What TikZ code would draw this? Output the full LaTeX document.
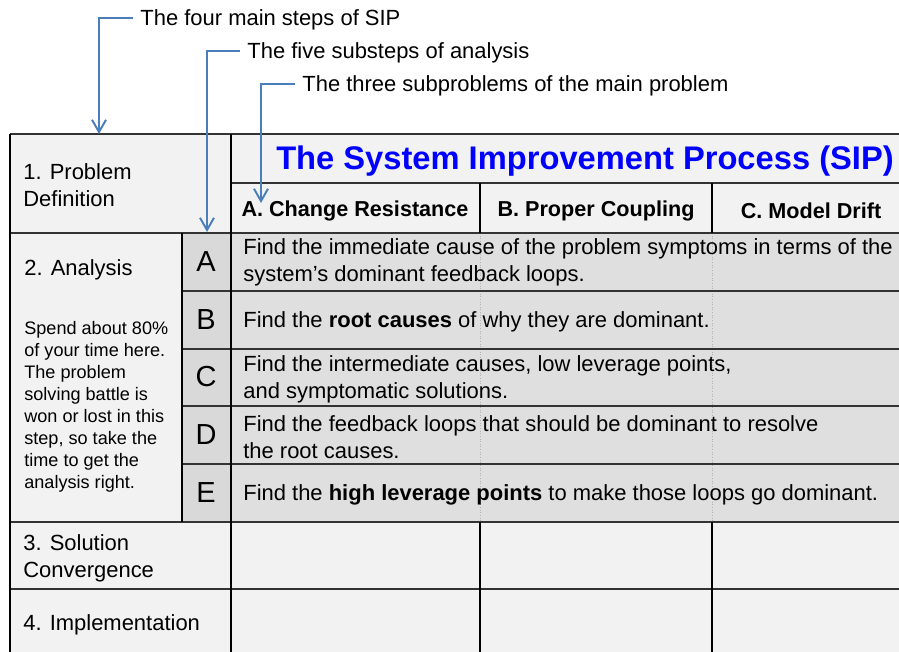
\documentclass[tikz,border=0pt]{standalone}
\usepackage{fontspec}
\setmainfont{Liberation Sans}
\usetikzlibrary{arrows.meta}

\definecolor{cellgray}{HTML}{F2F2F2}
\definecolor{stepgray}{HTML}{DFDFDF}
\definecolor{lettergray}{HTML}{D9D9D9}
\definecolor{calloutblue}{HTML}{4A7EBB}
\definecolor{titleblue}{HTML}{0000FF}

\tikzset{
  rule/.style={line width=1.2pt, black},
  hrule/.style={line width=1.1pt, black!80},
  softrule/.style={line width=0.5pt, black!30, densely dotted},
  callout/.style={calloutblue, line width=1.1pt, -{Straight Barb[length=7pt,width=8pt]}},
  note/.style={font=\fontsize{12.5}{15}\selectfont, inner sep=4pt, anchor=west, text depth=0pt},
  body/.style={font=\fontsize{12.5}{15.3}\selectfont, inner sep=0pt, anchor=west, align=left, yshift=-1.2pt},
  small/.style={font=\fontsize{10.3}{12.5}\selectfont, inner sep=0pt, anchor=west, align=left, yshift=-1.1pt},
  head/.style={font=\fontsize{12.3}{15}\selectfont\bfseries, inner sep=0pt, yshift=-1.6pt},
  letter/.style={font=\fontsize{16.5}{18}\selectfont, inner sep=0pt},
}

\begin{document}
\begin{tikzpicture}[x=0.02cm,y=-0.02cm]
  \useasboundingbox (0,0) rectangle (899,652);

  % table body, runs off the right and bottom edge
  \begin{scope}
    \clip (0,0) rectangle (899,652);
    \fill[cellgray] (10,134) rectangle (910,233);
    \fill[cellgray] (10,233) rectangle (182,522);
    \fill[lettergray] (182,233) rectangle (231,522);
    \fill[stepgray] (231,233) rectangle (910,522);
    \fill[cellgray] (10,522) rectangle (910,660);

    \draw[softrule] (480,233) -- (480,522);
    \draw[softrule] (712,233) -- (712,522);

    \draw[hrule] (231,183) -- (910,183);
    \foreach \y in {291,349,406,464}
      \draw[hrule] (182,\y) -- (910,\y);
    \foreach \y in {134,233,522,589}
      \draw[hrule] (10,\y) -- (910,\y);

    \draw[rule] (10,134) -- (10,660);
    \draw[rule] (182,233) -- (182,522);
    \draw[rule] (231,134) -- (231,660);
    \foreach \x in {480,712} {
      \draw[rule] (\x,183) -- (\x,233);
      \draw[rule] (\x,522) -- (\x,660);
    }
  \end{scope}

  % main steps
  \node[body] (probdef) at (23,183) {1. Problem\\Definition};
  \node[body] (analysis) at (24,268) {2. Analysis};
  \node[small] (advice) at (24,405) {Spend about 80\%\\of your time here.\\The problem\\solving battle is\\won or lost in this\\step, so take the\\time to get the\\analysis right.};
  \node[body] (converge) at (23,556) {3. Solution\\Convergence};
  \node[body] (implement) at (23,623) {4. Implementation};

  % title and subproblems
  \node[font=\fontsize{18.6}{20}\selectfont\bfseries, text=titleblue, inner sep=0pt, yshift=-1.6pt] (title) at (585,158) {The System Improvement Process (SIP)};
  \node[head] (resist) at (355,208) {A. Change Resistance};
  \node[head] (coupling) at (596,208) {B. Proper Coupling};
  \node[head] (drift) at (811,208) {C. Model Drift};

  % substeps of analysis
  \foreach \l/\y in {A/262,B/320,C/377,D/435,E/493}
    \node[letter] (sub\l) at (206,\y) {\l};
  \node[body] (stepA) at (243,260) {Find the immediate cause of the problem symptoms in terms of the\\system’s dominant feedback loops.};
  \node[body] (stepB) at (243,320) {Find the \textbf{root causes} of why they are dominant.};
  \node[body] (stepC) at (243,377) {Find the intermediate causes, low leverage points,\\and symptomatic solutions.};
  \node[body] (stepD) at (243,435) {Find the feedback loops that should be dominant to resolve\\the root causes.};
  \node[body] (stepE) at (243,493) {Find the \textbf{high leverage points} to make those loops go dominant.};

  % callouts
  \node[note] (stepsnote) at (133,18) {The four main steps of SIP};
  \node[note] (subnote) at (240,51) {The five substeps of analysis};
  \node[note] (probnote) at (295,84) {The three subproblems of the main problem};
  \coordinate (stepstip) at (99,134);
  \coordinate (subtip) at (207,232);
  \coordinate (probtip) at (261,203);
  \draw[callout] (stepsnote.west) -| (stepstip);
  \draw[callout] (subnote.west) -| (subtip);
  \draw[callout] (probnote.west) -| (probtip);
\end{tikzpicture}
\end{document}
